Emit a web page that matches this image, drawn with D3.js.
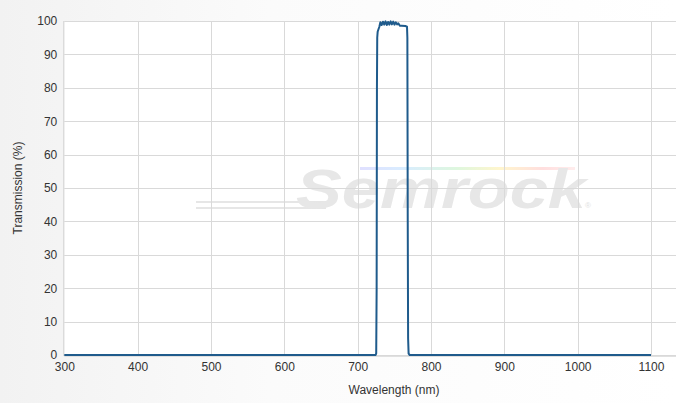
<!DOCTYPE html>
<html><head><meta charset="utf-8">
<script src="https://cdn.jsdelivr.net/npm/d3@7"></script>
<style>
html,body{margin:0;padding:0;}
body{width:677px;height:403px;background:linear-gradient(90deg,#f2f2f2 0%,#fbfbfb 40%,#ffffff 100%);overflow:hidden;}
svg{display:block;font-family:Arial,"Liberation Sans",sans-serif;}
</style></head><body>
<svg id="c" width="677" height="403"></svg>
<script>
const wavelengths = [300, 500, 700, 724.5, 725.3, 725.9, 726.3, 726.7, 727.3, 728.5, 729.5, 731, 732.7, 734.5, 736.2, 738, 739.7, 741.5, 743.2, 745, 746.7, 748.5, 750.2, 752, 753.7, 755.5, 757.5, 760, 765, 767.3, 767.8, 768.3, 768.8, 769.5, 771, 800, 1000, 1100];
const transmission = [0, 0, 0, 0, 0.5, 20, 80, 95, 96.8, 97.6, 98.2, 99.6, 98.8, 99.8, 98.9, 99.9, 98.8, 99.7, 98.9, 99.9, 99.0, 99.8, 98.9, 99.6, 99.0, 99.3, 98.6, 98.6, 98.5, 98.3, 95, 40, 5, 0.4, 0, 0, 0, 0];
const xTicks = [300, 400, 500, 600, 700, 800, 900, 1000, 1100];
const yTicks = [0, 10, 20, 30, 40, 50, 60, 70, 80, 90, 100];
const xTitle = "Wavelength (nm)";
const yTitle = "Transmission (%)";
const watermark = "Semrock";

const svg = d3.select("#c");
const pL = 64.3, pR = 676, pT = 21, pB = 355;
const x = d3.scaleLinear().domain([300, 1100]).range([pL, 651]);
const y = d3.scaleLinear().domain([0, 100]).range([pB, pT]);

// plot background
svg.append("rect").attr("x", pL).attr("y", pT).attr("width", pR - pL).attr("height", pB - pT).attr("fill", "#fff");

// watermark
const defs = svg.append("defs");
const rg = defs.append("linearGradient").attr("id", "rb").attr("x1", "0").attr("x2", "1");
[["#d8d8ff",0],["#cfe8ff",0.2],["#d6f5d6",0.45],["#fff3c0",0.65],["#ffd6d6",0.85],["#ffe8e8",1]].forEach(([c,o]) => rg.append("stop").attr("offset", o).attr("stop-color", c).attr("stop-opacity", 0.8));
const wm = svg.append("g");
wm.append("rect").attr("x", 360).attr("y", 167).attr("width", 215).attr("height", 3).attr("fill", "url(#rb)");
wm.append("rect").attr("x", 196).attr("y", 201).attr("width", 130).attr("height", 2).attr("fill", "#e6e6e6");
wm.append("rect").attr("x", 196).attr("y", 207).attr("width", 130).attr("height", 2).attr("fill", "#e6e6e6");
wm.append("text").attr("x", 296).attr("y", 208).attr("font-size", 56).attr("font-style", "italic").attr("font-weight", "bold")
  .attr("fill", "#e7e7e7").attr("textLength", 290).attr("lengthAdjust", "spacingAndGlyphs").text(watermark);
wm.append("text").attr("x", 585).attr("y", 208).attr("font-size", 8).attr("fill", "#e2e2e2").text("®");

// grid
const g = svg.append("g");
g.selectAll(".hy").data(yTicks).join("line").attr("x1", pL).attr("x2", pR)
  .attr("y1", d => Math.round(y(d)) + 0.5).attr("y2", d => Math.round(y(d)) + 0.5)
  .attr("stroke", "#d9d9d9").attr("stroke-width", 1);
g.selectAll(".vx").data(xTicks.slice(1)).join("line").attr("y1", pT).attr("y2", pB)
  .attr("x1", d => Math.round(x(d)) + 0.5).attr("x2", d => Math.round(x(d)) + 0.5)
  .attr("stroke", "#d9d9d9").attr("stroke-width", 1);
// axis lines
svg.append("line").attr("x1", pL - 0.5).attr("x2", pL - 0.5).attr("y1", pT).attr("y2", pB + 1).attr("stroke", "#d0d0d0");
svg.append("line").attr("x1", pL).attr("x2", pR).attr("y1", pB + 1.5).attr("y2", pB + 1.5).attr("stroke", "#e0e0e0");

// axes labels
const yAxis = d3.axisLeft(y).tickValues(yTicks).tickFormat(d3.format("d")).tickSize(0).tickPadding(6);
const ya = svg.append("g").attr("transform", `translate(${pL - 1},0)`).call(yAxis);
ya.select(".domain").remove();
ya.selectAll("text").attr("font-size", 12).attr("fill", "#333").attr("font-family", "Arial, 'Liberation Sans', sans-serif");
const xAxis = d3.axisBottom(x).tickValues(xTicks).tickFormat(d3.format("d")).tickSize(0).tickPadding(7);
const xa = svg.append("g").attr("transform", `translate(0,${pB})`).call(xAxis);
xa.select(".domain").remove();
xa.selectAll("text").attr("font-size", 12).attr("fill", "#333").attr("font-family", "Arial, 'Liberation Sans', sans-serif");

svg.append("text").attr("x", 394).attr("y", 394).attr("text-anchor", "middle").attr("font-size", 12).attr("fill", "#333").text(xTitle);
svg.append("text").attr("transform", "translate(22,188) rotate(-90)").attr("text-anchor", "middle").attr("font-size", 12).attr("fill", "#333").text(yTitle);

// data line
const data = wavelengths.map((w, i) => [w, transmission[i]]);
svg.append("path").datum(data).attr("fill", "none").attr("stroke", "#1f5b8c").attr("stroke-width", 2)
  .attr("stroke-linejoin", "round")
  .attr("d", d3.line().x(d => x(d[0])).y(d => y(d[1])));
</script>
</body></html>
